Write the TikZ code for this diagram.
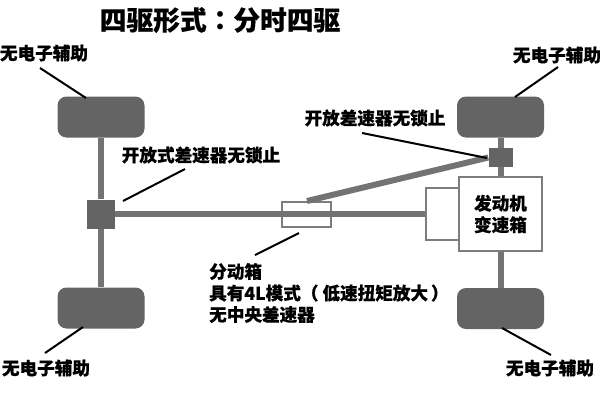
\documentclass[tikz,border=0pt]{standalone}
\usepackage{fontspec}
\setmainfont{Noto Sans CJK SC}[BoldFeatures={FakeBold=0.4}]
\newfontfamily\twfont{Noto Sans CJK TC}[BoldFeatures={FakeBold=0.4}]
\usetikzlibrary{positioning}
\definecolor{partgray}{RGB}{100, 100, 100}
\definecolor{shaftgray}{RGB}{115, 115, 115}
\definecolor{framegray}{RGB}{125, 125, 125}
\begin{document}
\begin{tikzpicture}[
        x=1pt, y=-1pt,
        wheel/.style={rectangle, rounded corners=9pt, fill=partgray,
                    minimum width=87pt, minimum height=41pt, inner sep=0pt},
        diffbox/.style={rectangle, fill=partgray, inner sep=0pt},
        framebox/.style={rectangle, draw=framegray, fill=white, inner sep=0pt},
        shaft/.style={line width=6pt, color=shaftgray},
        leader/.style={line width=2pt, color=black},
        tag/.style={font=\fontsize{17.6}{21.5}\selectfont\bfseries, inner sep=0pt, align=left}
      ]
        \useasboundingbox (0,0) rectangle (600,400);
        % wheels and boxes
        \node[wheel] (lt) at (101,117) {};
        \node[wheel] (lb) at (101,308) {};
        \node[wheel] (rt) at (500.5,117) {};
        \node[wheel] (rb) at (500.5,308.5) {};
        \node[diffbox, minimum width=28pt, minimum height=29pt] (ld) at (101,214) {};
        \node[diffbox, minimum width=24pt, minimum height=19pt] (rd) at (500.5,157.5) {};
        \node[framebox, line width=1.8pt, minimum width=49pt, minimum height=25pt] (tc) at (306.5,214.5) {};
        \node[framebox, line width=1.5pt, minimum width=33pt, minimum height=52pt] (gb) at (442.5,214) {};
        \node[framebox, line width=2pt, minimum width=83pt, minimum height=74pt,
              font=\fontsize{17.6}{21.5}\selectfont\bfseries, align=center] (eng) at (500.5,214) {发动机\\变速箱};
        % shafts
        \coordinate (tcin) at (307,201);
        \draw[shaft] (lt) -- (ld);
        \draw[shaft] (ld) -- (lb);
        \draw[shaft] (ld) -- (gb);
        \draw[shaft] (rt) -- (rd);
        \draw[shaft] (rd) -- (eng);
        \draw[shaft] (eng) -- (rb);
        \draw[shaft] (tcin) -- (rd.west);
        % labels
        \node[font=\fontsize{26.7}{30}\selectfont\bfseries, inner sep=0pt] (title) at (220,20) {四驱形式{\twfont ：}分时四驱};
        \node[tag] (ltl) at (44,53) {无电子辅助};
        \node[tag] (lbl) at (46,368) {无电子辅助};
        \node[tag] (rtl) at (557,55) {无电子辅助};
        \node[tag] (rbl) at (550,368) {无电子辅助};
        \node[tag] (ldl) at (201,155) {开放式差速器无锁止};
        \node[tag] (rdl) at (375,118) {开放差速器无锁止};
        \node[tag, anchor=west] (tcl) at (209,293) {分动箱\\具有4L模式{\twfont （}\hspace{4pt}低速扭矩放大\hspace{3pt}{\twfont ）}\\无中央差速器};
        % leaders
        \coordinate (a1) at (40,68);   \coordinate (a2) at (86,98);
        \coordinate (b1) at (45,353);  \coordinate (b2) at (83,327);
        \coordinate (c1) at (185,169); \coordinate (c2) at (123,201);
        \coordinate (d1) at (362,133); \coordinate (d2) at (487,158);
        \coordinate (e1) at (299,233); \coordinate (e2) at (255,255);
        \coordinate (f1) at (558,67);  \coordinate (f2) at (515,97);
        \coordinate (g1) at (551,355); \coordinate (g2) at (502,328);
        \draw[leader] (a1) -- (a2);
        \draw[leader] (b1) -- (b2);
        \draw[leader] (c1) -- (c2);
        \draw[leader] (d1) -- (d2);
        \draw[leader] (e1) -- (e2);
        \draw[leader] (f1) -- (f2);
        \draw[leader] (g1) -- (g2);
      \end{tikzpicture}
\end{document}
